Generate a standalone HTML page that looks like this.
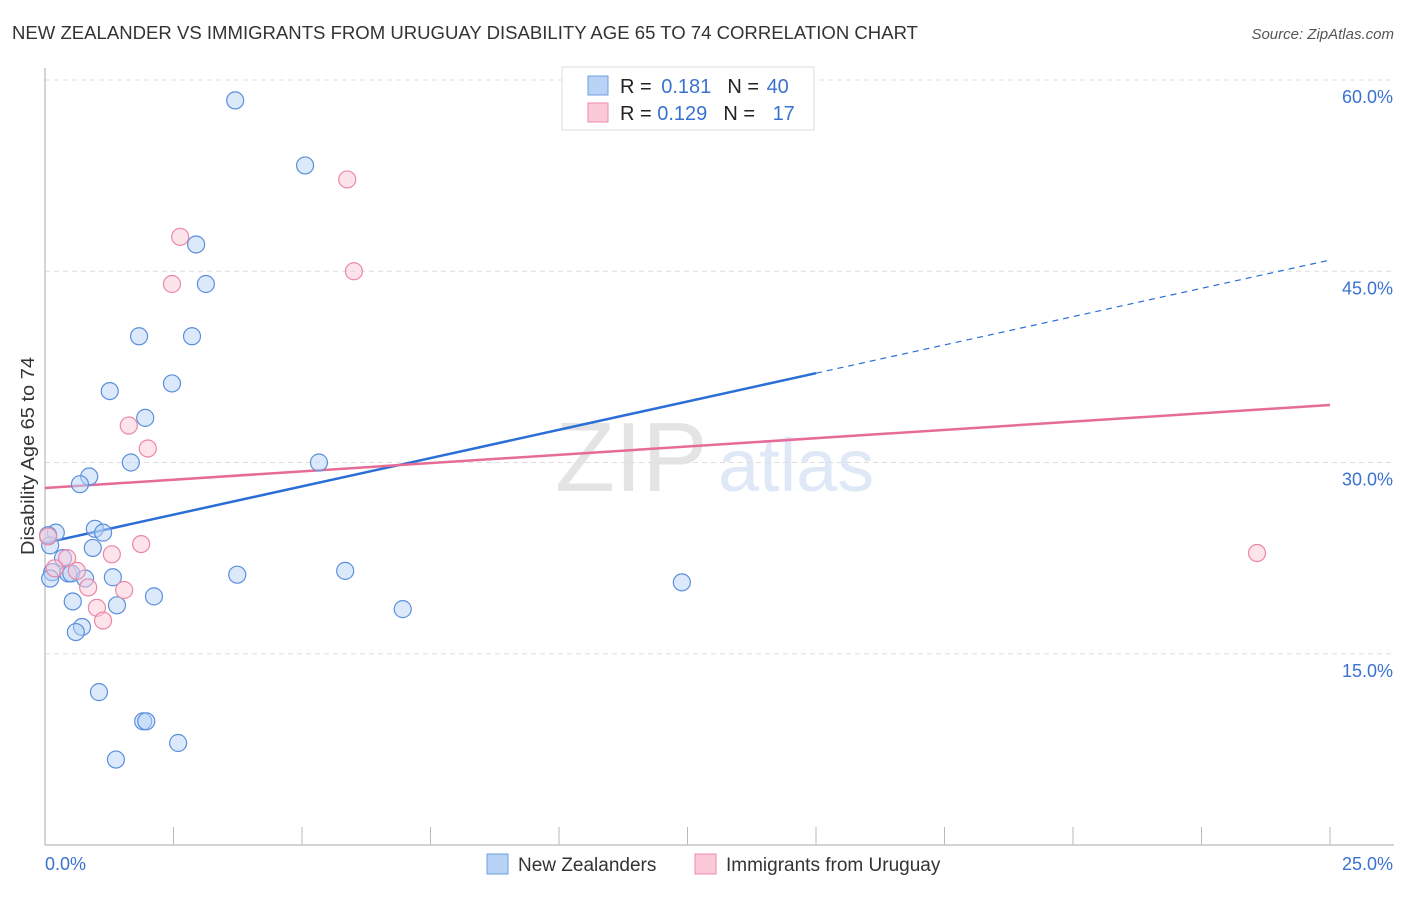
<!DOCTYPE html>
<html><head><meta charset="utf-8"><style>
body{margin:0;background:#fff;font-family:"Liberation Sans",sans-serif}
svg text{font-family:"Liberation Sans",sans-serif}
</style></head><body>
<svg id="chart" width="1406" height="892">
<text x="12" y="39" font-size="18" fill="#333" textLength="906" lengthAdjust="spacingAndGlyphs">NEW ZEALANDER VS IMMIGRANTS FROM URUGUAY DISABILITY AGE 65 TO 74 CORRELATION CHART</text>
<text x="1394" y="39" font-size="15" fill="#555" font-style="italic" text-anchor="end">Source: ZipAtlas.com</text>
<text x="555" y="491" font-size="98" fill="#e4e4e4" font-family="Liberation Serif">ZIP</text>
<text x="718" y="491" font-size="74" fill="#dfe8f6">atlas</text>
<g id="grid"></g><g id="axes"></g><g id="lines"></g><g id="pts"></g>
<text transform="translate(34,456) rotate(-90)" font-size="18" fill="#333" text-anchor="middle" textLength="198" lengthAdjust="spacingAndGlyphs">Disability Age 65 to 74</text>
<g>
<rect x="562" y="67" width="252" height="63" fill="#fff" stroke="#ddd"/>
<rect x="588" y="76" width="20" height="19" fill="#b8d3f5" stroke="#6d9fe0"/>
<rect x="588" y="103" width="20" height="19" fill="#fcc9d8" stroke="#f08aaa"/>
<text x="620" y="93" font-size="20" fill="#222">R = <tspan fill="#3a72d1" dx="4">0.181</tspan><tspan fill="#222" dx="16">N = </tspan><tspan fill="#3a72d1" dx="2">40</tspan></text>
<text x="620" y="120" font-size="20" fill="#222">R = <tspan fill="#3a72d1">0.129</tspan><tspan fill="#222" dx="16">N = </tspan><tspan fill="#3a72d1" dx="12">17</tspan></text>
</g>
<g>
<rect x="487" y="854" width="21" height="20" fill="#b8d3f5" stroke="#6d9fe0"/>
<text x="518" y="871" font-size="19" fill="#333">New Zealanders</text>
<rect x="695" y="854" width="21" height="20" fill="#fcc9d8" stroke="#f08aaa"/>
<text x="726" y="871" font-size="19" fill="#333">Immigrants from Uruguay</text>
</g>
</svg>
<script>
const yTicks=[15,30,45,60];
const xTickLabels=["0.0%","25.0%"];
const blueX=[3.7,5.06,2.94,3.13,1.83,2.86,1.26,2.47,1.95,1.67,5.33,0.86,0.68,0.97,1.13,0.21,0.1,0.93,0.35,0.14,0.45,0.51,0.1,0.78,1.32,3.74,5.84,0.54,1.4,2.12,6.96,0.72,0.6,12.39,1.05,1.91,1.97,2.59,1.38,0.06];
const blueY=[58.4,53.3,47.1,44.0,39.9,39.9,35.6,36.2,33.5,30.0,30.0,28.9,28.3,24.8,24.5,24.5,23.5,23.3,22.5,21.4,21.3,21.3,20.9,20.9,21.0,21.2,21.5,19.1,18.8,19.5,18.5,17.1,16.7,20.6,11.99,9.7,9.7,8.0,6.7,24.3];
const pinkX=[5.88,2.63,6.01,2.47,1.63,2.0,1.87,1.3,0.43,0.19,0.62,0.84,1.54,1.01,1.13,23.58,0.06];
const pinkY=[52.2,47.7,45.0,44.0,32.9,31.1,23.6,22.8,22.5,21.7,21.5,20.2,20.0,18.6,17.6,22.9,24.2];
const blueFit=[23.69,45.88];
const pinkFit=[28.0,34.51];
const NS="http://www.w3.org/2000/svg";
const X0=45,X1=1330,YB=845,PX=12.75;
const sx=v=>X0+(v/25)*(X1-X0), sy=v=>YB-v*PX;
function mk(tag,attrs,parent){const e=document.createElementNS(NS,tag);for(const k in attrs)e.setAttribute(k,attrs[k]);document.getElementById(parent).appendChild(e);return e;}
yTicks.forEach(t=>{
 const l=mk('line',{x1:X0,x2:1394,y1:sy(t),y2:sy(t),stroke:'#ddd','stroke-dasharray':'5,4'},'grid');
 
 
 const tx=mk('text',{x:1393,y:sy(t)+23,'font-size':18,fill:'#3a72d1','text-anchor':'end'},'grid');
 tx.textContent=t.toFixed(1)+'%';
 
 
});
let ax=mk('line',{x1:X0,x2:X0,y1:68,y2:YB,stroke:'#aaa'},'axes');


ax=mk('line',{x1:X0,x2:1394,y1:YB,y2:YB,stroke:'#aaa'},'axes');


for(let i=1;i<=10;i++){const t=mk('line',{x1:sx(i*2.5),x2:sx(i*2.5),y1:YB,y2:YB-18,stroke:'#bbb'},'axes');
 
 }
let xl=mk('text',{x:45,y:870,'font-size':18,fill:'#3a72d1'},'axes');xl.textContent=xTickLabels[0];


xl=mk('text',{x:1393,y:870,'font-size':18,fill:'#3a72d1','text-anchor':'end'},'axes');xl.textContent=xTickLabels[1];


function pts(xs,ys,fill,stroke,name){xs.forEach((v,i)=>{const c=mk('circle',{cx:sx(v),cy:sy(ys[i]),r:8.5,fill:fill,'fill-opacity':0.5,stroke:stroke,'stroke-width':1.2},'pts');
 
 });}
pts(blueX,blueY,'#b8d3f5','#5b8fdc','new-zealander-point');
pts(pinkX,pinkY,'#fcc9d8','#ec87a7','uruguay-point');
const bAt=x=>blueFit[0]+(blueFit[1]-blueFit[0])*x/25;
let ln=mk('line',{x1:sx(0),y1:sy(bAt(0)),x2:sx(15),y2:sy(bAt(15)),stroke:'#2b6fd6','stroke-width':2.5},'lines');


ln=mk('line',{x1:sx(15),y1:sy(bAt(15)),x2:sx(25),y2:sy(bAt(25)),stroke:'#2b6fd6','stroke-width':1.2,'stroke-dasharray':'6,5'},'lines');


ln=mk('line',{x1:sx(0),y1:sy(pinkFit[0]),x2:sx(25),y2:sy(pinkFit[1]),stroke:'#e66b96','stroke-width':2.5},'lines');


</script>
</body></html>
